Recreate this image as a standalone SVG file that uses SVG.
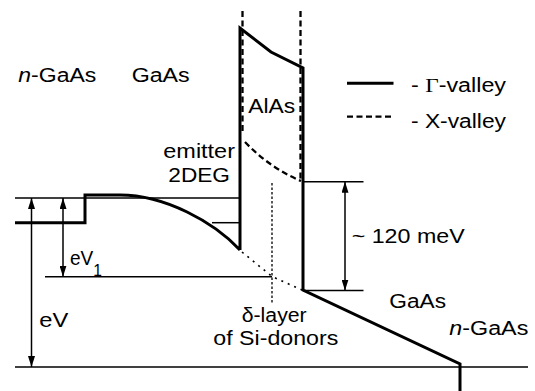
<svg xmlns="http://www.w3.org/2000/svg" width="535" height="391" viewBox="0 0 535 391">
<style>
.thin{fill:none;stroke:#000;stroke-width:1.5}
.thick{fill:none;stroke:#000;stroke-width:3;stroke-linejoin:miter}
.dash{fill:none;stroke:#000;stroke-width:2.3;stroke-dasharray:6 3.5}
.dot{fill:none;stroke:#000;stroke-width:1.6;stroke-dasharray:2 5}
.vdot{fill:none;stroke:#000;stroke-width:1.3;stroke-dasharray:2.5 2}
.arr{fill:none;stroke:#000;stroke-width:1.5;marker-start:url(#ah);marker-end:url(#ah)}
text{font-family:"Liberation Sans",Arial,Helvetica,sans-serif;font-size:19.5px;fill:#000}
.it{font-style:italic}
.serif{font-family:"Liberation Serif","Times New Roman",serif}
.sub{font-size:16px}
</style>
<defs>
<marker id="ah" viewBox="0 0 11 7" refX="11" refY="3.5" markerWidth="11" markerHeight="7" markerUnits="userSpaceOnUse" orient="auto-start-reverse">
<path d="M0,0 L11,3.5 L0,7 z" fill="#000"/>
</marker>
</defs>

<g id="levels">
<line class="thin" x1="15" y1="198" x2="240" y2="198"/>
<line class="thin" x1="212" y1="222.7" x2="240" y2="222.7"/>
<line class="thin" x1="45" y1="276.7" x2="272" y2="276.7"/>
<line class="thin" x1="15" y1="367" x2="528" y2="367"/>
<line class="thin" x1="303" y1="181.7" x2="363.5" y2="181.7"/>
<line class="thin" x1="303" y1="290.5" x2="363.5" y2="290.5"/>
</g>

<g id="gamma-band">
<path class="thick" d="M15,222.7 H85 V195 H120 C165,195 214,222 240,250 M240,250 V28 L271,52 L303,68 V290 L460,364 V391"/>
</g>

<g id="x-band">
<line class="dash" x1="242.5" y1="11" x2="242.5" y2="134"/>
<line class="dash" x1="300.5" y1="11" x2="300.5" y2="180"/>
<path class="dash" d="M245,142 Q270,168 301,181"/>
</g>

<g id="dotted">
<polyline class="dot" points="242,252 272,276.5 302,290"/>
<line class="vdot" x1="272" y1="183" x2="272" y2="303"/>
</g>

<g id="connectors">
<line class="arr" x1="31.5" y1="198" x2="31.5" y2="367"/>
<line class="arr" x1="63" y1="198" x2="63" y2="276.7"/>
<line class="arr" x1="345" y1="181.7" x2="345" y2="290.5"/>
</g>

<g id="legend">
<line class="thick" x1="347" y1="83.3" x2="393.5" y2="83.3"/>
<line class="dash" x1="347" y1="116.7" x2="393.5" y2="116.7"/>
<text x="411" y="91.5" textLength="95" lengthAdjust="spacingAndGlyphs">- <tspan class="serif">Γ</tspan>-valley</text>
<text x="411" y="128" textLength="95" lengthAdjust="spacingAndGlyphs">- X-valley</text>
</g>

<g id="labels">
<text x="18.3" y="81.7" textLength="78" lengthAdjust="spacingAndGlyphs"><tspan class="it">n</tspan>-GaAs</text>
<text x="131.7" y="81.7" textLength="58" lengthAdjust="spacingAndGlyphs">GaAs</text>
<text x="248.3" y="113.3" textLength="47" lengthAdjust="spacingAndGlyphs">AlAs</text>
<text x="163.3" y="158.3" textLength="71.7" lengthAdjust="spacingAndGlyphs">emitter</text>
<text x="168.3" y="181.7" textLength="61.7" lengthAdjust="spacingAndGlyphs">2DEG</text>
<text x="351.7" y="243.3" textLength="113" lengthAdjust="spacingAndGlyphs">~ 120 meV</text>
<text x="389.3" y="307.7" textLength="56.7" lengthAdjust="spacingAndGlyphs">GaAs</text>
<text x="449.3" y="335" textLength="79" lengthAdjust="spacingAndGlyphs"><tspan class="it">n</tspan>-GaAs</text>
<text x="241.7" y="322" textLength="65" lengthAdjust="spacingAndGlyphs">δ-layer</text>
<text x="213.3" y="345" textLength="125" lengthAdjust="spacingAndGlyphs">of Si-donors</text>
<text x="39.3" y="327.3" textLength="29" lengthAdjust="spacingAndGlyphs">eV</text>
<text x="70" y="265" textLength="32" lengthAdjust="spacingAndGlyphs">eV<tspan class="sub" dy="11">1</tspan></text>
</g>
</svg>
